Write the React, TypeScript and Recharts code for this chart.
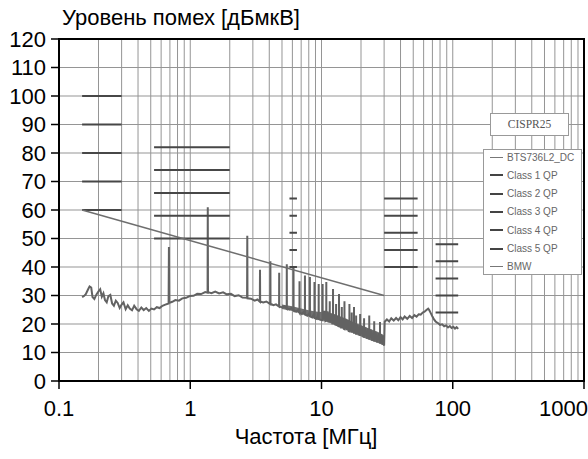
import { ComposedChart, Line, Area, XAxis, YAxis, CartesianGrid, ReferenceArea } from 'recharts'

// frequency grid (MHz) and level ticks (dBµV)
const decades = [0.1, 1, 10, 100, 1000]
const gridFreqs = [
  0.1, 0.2, 0.3, 0.4, 0.5, 0.6, 0.7, 0.8, 0.9,
  1, 2, 3, 4, 5, 6, 7, 8, 9,
  10, 20, 30, 40, 50, 60, 70, 80, 90,
  100, 200, 300, 400, 500, 600, 700, 800, 900,
  1000,
]
const levelTicks = [0, 10, 20, 30, 40, 50, 60, 70, 80, 90, 100, 110, 120]

// CISPR25 limit bands (MHz) and QP levels per class
const limitBands = [[0.15, 0.3], [0.53, 2.0], [5.7, 6.5], [30, 54], [74, 110]]
const class1QP = [100, 82, 64, 64, 48]
const class2QP = [90, 74, 58, 58, 42]
const class3QP = [80, 66, 52, 52, 36]
const class4QP = [70, 58, 46, 46, 30]
const class5QP = [60, 50, 40, 40, 24]

// BMW limit line
const bmwLimit = [[0.15, 60], [30, 30]]

// measured spectrum BTS736L2_DC, [MHz, dBµV]
const spectrumLow = [
  [0.15, 29.4], [0.155, 29.8], [0.16, 30.5], [0.166, 32], [0.171, 33.2], [0.176, 32.8], [0.18, 29.5],
  [0.186, 28.8], [0.193, 30.4], [0.2, 31.5], [0.206, 32.2], [0.212, 29.6], [0.218, 30.8], [0.224, 28.4],
  [0.231, 27.6], [0.238, 29.8], [0.246, 30.2], [0.254, 27.2], [0.262, 26.4], [0.271, 28.2], [0.28, 27.4],
  [0.29, 25.6], [0.3, 26.8], [0.31, 27.6], [0.322, 25.2], [0.334, 26.6], [0.346, 25.4], [0.36, 24.8],
  [0.374, 26.4], [0.39, 25.2], [0.406, 24.6], [0.424, 25.8], [0.442, 24.9], [0.462, 25.6], [0.484, 24.6],
  [0.506, 25.4], [0.53, 25.1], [0.556, 25.9], [0.584, 25.6], [0.614, 26.4], [0.646, 26.8], [0.684, 27.2],
  [0.688, 47], [0.692, 27.4], [0.73, 27.8], [0.77, 28.4], [0.82, 28.2], [0.87, 29], [0.93, 29.2],
  [0.99, 29.8], [1.06, 29.9], [1.13, 30.6], [1.21, 30.5], [1.3, 31.2], [1.355, 31], [1.36, 61],
  [1.365, 31.2], [1.45, 30.8], [1.55, 31.4], [1.66, 30.7], [1.78, 31.1], [1.9, 30.4], [2.04, 30.6],
  [2.18, 29.8], [2.34, 30.1], [2.5, 29.3], [2.71, 29.2], [2.72, 51], [2.73, 29], [2.9, 28.9],
  [3.1, 28.2], [3.25, 28.6], [3.39, 27.8], [3.4, 39], [3.41, 27.9], [3.6, 27.6], [3.8, 27.9],
  [4.07, 27], [4.08, 42], [4.09, 27.1], [4.3, 26.6], [4.5, 26.9], [4.75, 26.1], [4.76, 38],
  [4.77, 26.2], [5.0, 25.8], [5.2, 26.2], [5.43, 25.4], [5.44, 41], [5.45, 25.5], [5.7, 25.1],
  [5.9, 25.6], [6.11, 24.8], [6.12, 40], [6.13, 24.9], [6.4, 24.3], [6.6, 24.8], [6.79, 23.9],
  [6.8, 35], [6.81, 24], [7.1, 23.5], [7.3, 24.1], [7.47, 23.2], [7.48, 37], [7.49, 23.3],
  [7.8, 22.9], [8.0, 23.6], [8.15, 22.6], [8.16, 36.5], [8.17, 22.7], [8.5, 22.3], [8.7, 23.2],
  [8.83, 22], [8.84, 34.7], [8.85, 22.1], [9.2, 21.8], [9.35, 22.9], [9.51, 21.6], [9.52, 34],
  [9.53, 21.7], [9.8, 21.5],
]
const spectrumMid = [
  [10.19, 21.3], [10.2, 34], [10.21, 21.4], [10.5, 24.6], [10.7, 21], [10.87, 21.2], [10.88, 34.7],
  [10.89, 21], [11.1, 24.4], [11.3, 20.6], [11.55, 24], [11.56, 28], [11.57, 20.5], [11.9, 23.6],
  [12.1, 20.2], [12.23, 20.2], [12.24, 32.3], [12.25, 20.1], [12.5, 23.2], [12.7, 19.8], [12.91, 19.7],
  [12.92, 27], [12.93, 19.6], [13.2, 22.8], [13.4, 19.3], [13.59, 19.2], [13.6, 30.5], [13.61, 19.1],
  [13.9, 22.4], [14.1, 18.8], [14.27, 18.8], [14.28, 26], [14.29, 18.7], [14.6, 22], [14.8, 18.3],
  [14.95, 18.2], [14.96, 28], [14.97, 18.2], [15.3, 21.6], [15.6, 17.8], [15.8, 21.4], [16.1, 17.5],
  [16.31, 17.4], [16.32, 27], [16.33, 17.4], [16.7, 21], [16.99, 17], [17.0, 24], [17.01, 17],
  [17.3, 20.6], [17.67, 16.7], [17.68, 26], [17.69, 16.6], [18.0, 20.2], [18.35, 16.3], [18.36, 23],
  [18.37, 16.3], [18.8, 19.8], [19.2, 16], [19.69, 19.6], [19.7, 23.5], [19.71, 15.8], [20.2, 19.3],
  [20.7, 15.4], [21.1, 19], [21.11, 22], [21.12, 15.2], [21.6, 18.7], [22.2, 14.9], [22.7, 18.4],
  [23.1, 14.6], [23.11, 23], [23.12, 14.6], [23.7, 18], [24.3, 14.2], [24.9, 17.6], [25.2, 14],
  [25.21, 21], [25.22, 13.9], [25.8, 17.2], [26.5, 13.6], [27.2, 16.8], [27.9, 13.2], [27.91, 20.7],
  [27.92, 13.2], [28.5, 16.4], [29.2, 12.8], [29.7, 15.8], [30, 12.4],
]
const spectrumHigh = [
  [30.3, 20.8], [31.5, 21.6], [32.8, 20.9], [34, 22], [35.5, 21.2], [37, 22.1], [38.5, 21.3],
  [40, 22.4], [41.5, 21.6], [43, 22.6], [45, 21.8], [47, 22.8], [49, 22.1], [51, 23.1],
  [53, 22.6], [55, 23.4], [57, 23.3], [59, 24], [61, 24.3], [63, 24.9], [65, 25.4], [66, 25],
  [68, 23.8], [70, 22.6], [72, 21.6], [74, 20.9], [76, 20.5], [78, 20.2], [80, 19.7], [83, 19.9],
  [86, 19.2], [89, 19.5], [92, 18.8], [95, 19.3], [98, 18.6], [101, 19], [104, 18.4], [107, 18.9],
  [110, 18.3],
]

// dense noise band of the spectrum (lower / upper envelope)
const bandFreq = [5, 6, 7, 8, 9, 10, 11, 12.5, 14, 15.5, 17, 19, 21, 23, 25, 27, 29, 30]
const bandLow = [25.3, 24.6, 23.6, 22.7, 22, 21.4, 20.8, 19.8, 18.8, 17.9, 17.1, 16.1, 15.2, 14.5, 13.9, 13.3, 12.7, 12.3]
const bandHigh = [26.8, 26.2, 25.4, 24.8, 24.4, 24.2, 24.2, 23.5, 22.6, 21.8, 21, 20, 19.2, 18.4, 17.8, 17.2, 16.4, 16]

const legendItems = ['BTS736L2_DC', 'Class 1 QP', 'Class 2 QP', 'Class 3 QP', 'Class 4 QP', 'Class 5 QP', 'BMW']

const FONT = '"Liberation Sans", Arial, sans-serif'
const FS = 22
const TICK_SIZE = 8
const TICK_MARGIN = 11

const toPoints = (pairs: number[][]) => pairs.map(([f, v]) => ({ f, v }))

const classSegments = (levels: number[]) =>
  limitBands.flatMap(([lo, hi], i) => [
    { f: lo, v: levels[i] },
    { f: hi, v: levels[i] },
    { f: hi, v: null },
  ])

const spectrumData = toPoints([...spectrumLow, ...spectrumMid, ...spectrumHigh])
const bandData = bandFreq.map((f, i) => ({ f, r: [bandLow[i], bandHigh[i]] }))
const bmwData = toPoints(bmwLimit)
const classData = [class1QP, class2QP, class3QP, class4QP, class5QP].map(classSegments)

function FreqTick(props: any) {
  const { x, y, payload } = props
  const value = payload.value
  if (!decades.includes(value)) return null
  const axisY = y - TICK_SIZE - TICK_MARGIN
  const isLast = value === 1000
  return (
    <g>
      <line x1={x} x2={x} y1={axisY} y2={axisY + TICK_SIZE} stroke="#000" strokeWidth={1.5} />
      <text
        x={isLast ? x + 4 : x}
        y={y}
        dy="0.71em"
        textAnchor={isLast ? 'end' : 'middle'}
        fontSize={FS}
        fontFamily={FONT}
        fill="#000"
      >
        {String(value)}
      </text>
    </g>
  )
}

export default function App() {
  return (
    <div style={{ position: 'relative', width: 588, height: 459, background: '#fff', fontFamily: FONT }}>
      <style>{'body{margin:0}'}</style>
      <ComposedChart width={588} height={459} margin={{ top: 39, right: 4, bottom: 0, left: 0 }}>
        <CartesianGrid stroke="#959595" strokeWidth={1} />
        <XAxis
          dataKey="f"
          type="number"
          scale="log"
          domain={[0.1, 1000]}
          allowDataOverflow
          ticks={gridFreqs}
          interval={0}
          tick={<FreqTick />}
          tickLine={false}
          tickSize={TICK_SIZE}
          tickMargin={TICK_MARGIN}
          axisLine={{ stroke: '#000', strokeWidth: 2 }}
          height={78}
        />
        <YAxis
          type="number"
          domain={[0, 120]}
          ticks={levelTicks}
          interval={0}
          width={59}
          tickSize={TICK_SIZE}
          tickMargin={5}
          tickLine={{ stroke: '#000', strokeWidth: 1.5 }}
          axisLine={{ stroke: '#000', strokeWidth: 2 }}
          tick={{ fill: '#000', fontSize: FS, fontFamily: FONT }}
        />
        <Area
          data={bandData}
          dataKey="r"
          type="linear"
          stroke="none"
          fill="#707070"
          fillOpacity={1}
          isAnimationActive={false}
        />
        <Line
          data={spectrumData}
          dataKey="v"
          name="BTS736L2_DC"
          type="linear"
          stroke="#626262"
          strokeWidth={2}
          dot={false}
          isAnimationActive={false}
        />
        {classData.map((d, i) => (
          <Line
            key={i}
            data={d}
            dataKey="v"
            name={`Class ${i + 1} QP`}
            type="linear"
            stroke="#474747"
            strokeWidth={2}
            dot={false}
            connectNulls={false}
            isAnimationActive={false}
          />
        ))}
        <Line
          data={bmwData}
          dataKey="v"
          name="BMW"
          type="linear"
          stroke="#6e6e6e"
          strokeWidth={1.5}
          dot={false}
          isAnimationActive={false}
        />
        <ReferenceArea x1={0.1} x2={1000} y1={0} y2={120} fill="none" fillOpacity={0} stroke="#000" strokeWidth={2} />
      </ComposedChart>

      <div style={{ position: 'absolute', left: 62, top: 5, fontSize: FS, color: '#000', whiteSpace: 'nowrap' }}>
        Уровень помех [дБмкВ]
      </div>
      <div style={{ position: 'absolute', left: 206, width: 200, top: 424, fontSize: FS, color: '#000', textAlign: 'center', whiteSpace: 'nowrap' }}>
        Частота [МГц]
      </div>

      <div
        style={{
          position: 'absolute',
          left: 490,
          top: 113,
          width: 77,
          height: 21,
          border: '1px solid #999',
          background: '#fff',
          fontFamily: '"Liberation Serif", "Times New Roman", serif',
          fontSize: 11.5,
          color: '#555',
          textAlign: 'center',
          lineHeight: '21px',
        }}
      >
        CISPR25
      </div>
      <div
        style={{
          position: 'absolute',
          left: 483,
          top: 149,
          width: 97,
          height: 124,
          border: '1px solid #999',
          background: '#fff',
        }}
      >
        {legendItems.map((name, i) => (
          <div
            key={name}
            style={{
              position: 'absolute',
              left: 6,
              top: i * 18.3,
              height: 14,
              display: 'flex',
              alignItems: 'center',
              fontSize: 10,
              color: '#666',
              whiteSpace: 'nowrap',
            }}
          >
            <span
              style={{
                display: 'inline-block',
                width: 13,
                height: i === 0 || i === 6 ? 1 : 2,
                background: i === 0 || i === 6 ? '#777' : '#444',
                marginRight: 4,
              }}
            />
            {name}
          </div>
        ))}
      </div>
    </div>
  )
}
